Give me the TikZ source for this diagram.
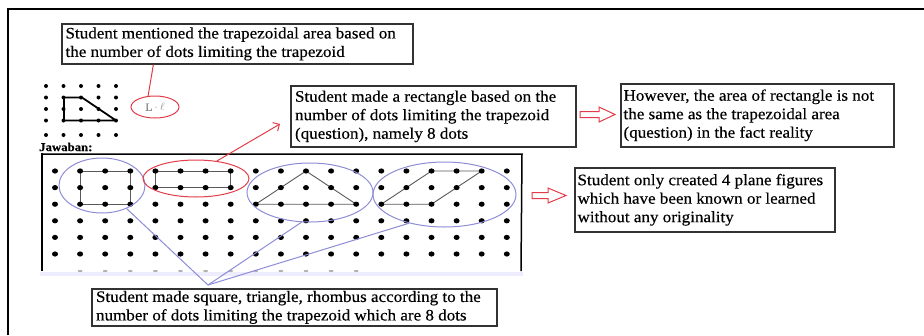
\documentclass[tikz,border=0pt]{standalone}
\usepackage{fontspec}
\setmainfont{Liberation Serif}[FakeStretch=1.065,FakeBold=0.3]
\usetikzlibrary{shapes.geometric,arrows.meta}
\definecolor{bluc}{RGB}{140,140,215}
\definecolor{redc}{RGB}{225,60,72}
\definecolor{boxc}{RGB}{50,50,50}
\newcommand{\boxlines}[1]{\begin{tabular}{@{}l@{}}#1\end{tabular}}
\tikzset{
  box/.style={draw=boxc,line width=1.3pt,fill=white,inner sep=0pt},
  txt/.style={inner sep=0pt,font=\fontsize{16}{18.5}\selectfont},
  bel/.style={ellipse,draw=bluc,line width=1pt,inner sep=0pt},
  rel/.style={ellipse,draw=redc,line width=1pt,inner sep=0pt},
  bluline/.style={draw=bluc,line width=1pt},
  redline/.style={draw=redc,line width=1pt},
  shapeline/.style={draw=black!65,line width=0.9pt},
  hollow/.style={draw=redc,line width=1pt,fill=white},
}
\begin{document}
\begin{tikzpicture}[x=1pt,y=-1pt]
\useasboundingbox (0,0) rectangle (924,335);
% outer frame
\draw[line width=1.2pt] (8,335) -- (8,9) -- (924,9);

% small dot grid with trapezoid
\draw[line width=1.8pt,line join=round] (64,97.5) -- (82,97.5) -- (116,120.5) -- (64,120.5) -- cycle;
\foreach \i in {0,...,4}{
  \foreach \yy in {86,97.5,109,120.5,135}{
    \fill ({46+17.5*\i},\yy) circle[radius=2pt];
  }
}
\node[anchor=west,inner sep=0pt,font=\bfseries\fontsize{12}{12}\selectfont] (jaw) at (39,147) {Jawaban:};

% L ellipse
\node[rel,minimum width=48pt,minimum height=22pt,text=black!45,font=\fontsize{11}{11}\selectfont] (L) at (155,107) {$\mathrm{L}\cdot\ell$};

% main grid box
\fill[blue!7] (40,272) rectangle (523,276);
\draw[line width=2.6pt] (42,271) -- (42,153);
\draw[line width=1.5pt] (41,154) -- (522,154) -- (521,271);

% shapes in grid
\draw[shapeline] (80.1,171) -- (130.3,171) -- (130.3,204.2) -- (80.1,204.2) -- cycle;
\draw[shapeline] (155.4,171) -- (230.7,171) -- (230.7,187.6) -- (155.4,187.6) -- cycle;
\draw[shapeline] (255.8,204.2) -- (306,171) -- (356.2,204.2) -- cycle;
\draw[shapeline] (381.3,204.2) -- (431.5,171) -- (481.7,171) -- (431.5,204.2) -- cycle;

% dots
\foreach \i in {0,...,18}{
  \foreach \j in {0,...,5}{
    \fill ({55+25.1*\i},{171+16.6*\j}) ellipse[x radius=3pt,y radius=2.6pt];
  }
}
\foreach \i in {1,...,12}{
  \fill[black!30] ({55+25.1*\i},271) ellipse[x radius=2.4pt,y radius=1.1pt];
}

% ellipses
\node[bel,minimum width=86pt,minimum height=55pt] (sq) at (102,185.5) {};
\node[rel,minimum width=106pt,minimum height=37pt] (rc) at (196,178.5) {};
\node[bel,minimum width=126pt,minimum height=59pt] (tri) at (310,192.5) {};
\node[bel,minimum width=143pt,minimum height=65pt] (rh) at (444.5,194.5) {};

% boxes
\node[box,minimum width=351pt,minimum height=40pt] (b1) at (237.5,44) {};
\node[txt,anchor=west] (t1) at ([xshift=4pt]b1.west) {\boxlines{Student mentioned the trapezoidal area based on\\the number of dots limiting the trapezoid}};

\node[box,minimum width=285pt,minimum height=61pt] (b2) at (433.5,116.5) {};
\node[txt,anchor=west] (t2) at ([xshift=4.5pt]b2.west) {\boxlines{Student made a rectangle based on the\\number of dots limiting the trapezoid\\(question), namely 8 dots}};

\node[box,minimum width=273pt,minimum height=63pt] (b3) at (757.5,115.5) {};
\node[txt,anchor=west] (t3) at ([xshift=3pt]b3.west) {\boxlines{However, the area of rectangle is not\\the same as the trapezoidal area\\(question) in the fact reality}};

\node[box,minimum width=260pt,minimum height=64pt] (b4) at (705,200) {};
\node[txt,anchor=west] (t4) at ([xshift=3pt]b4.west) {\boxlines{Student only created 4 plane figures\\which have been known or learned\\without any originality}};

\node[box,minimum width=405pt,minimum height=37pt] (b5) at (294.5,307.5) {};
\node[txt,anchor=west] (t5) at ([xshift=4.5pt]b5.west) {\boxlines{Student made square, triangle, rhombus according to the\\number of dots limiting the trapezoid which are 8 dots}};

% connectors
\coordinate (conv) at (208,285);
\draw[bluline] (sq) -- (conv) -- (tri.-106);
\draw[bluline] (conv) -- (rh.-141);
\coordinate (rtip) at (280,124);
\draw[redline,-{Straight Barb[length=5pt,width=10pt]}] (rc.40) -- (rtip);
\draw[redline] (L.122) -- ([xshift=92pt]b1.south west);

% hollow block arrows
\draw[hollow] (580,111.5) -- (599,111.5) -- (599,107) -- (615,114.5) -- (599,122) -- (599,117.5) -- (580,117.5) -- cycle;
\draw[hollow] (532,192.5) -- (548,192.5) -- (548,188) -- (566,195.5) -- (548,203) -- (548,198.5) -- (532,198.5) -- cycle;
\end{tikzpicture}
\end{document}
